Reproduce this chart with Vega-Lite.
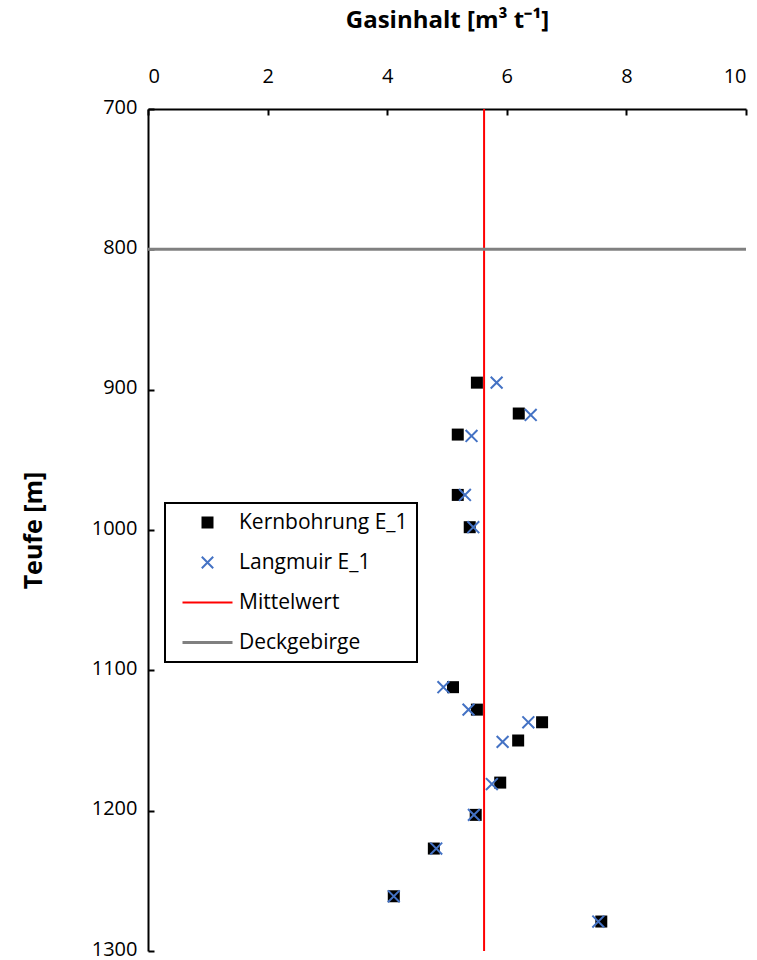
{
  "$schema": "https://vega.github.io/schema/vega-lite/v6.json",
  "width": 598,
  "height": 842,
  "autosize": {"type": "none"},
  "padding": {"left": 148, "top": 109, "right": 11, "bottom": 9},
  "background": "white",
  "config": {
    "view": {"stroke": null},
    "font": "Open Sans",
    "axis": {
      "grid": false,
      "domainColor": "black",
      "domainWidth": 2,
      "tickColor": "black",
      "tickWidth": 2,
      "tickSize": -6,
      "labelColor": "black",
      "labelFont": "Open Sans",
      "labelFontSize": 20,
      "titleFont": "Open Sans",
      "titleFontWeight": "bold",
      "titleFontSize": 24,
      "titleColor": "black"
    }
  },
  "datasets": {
    "pts": [
      {"serie": "Kernbohrung E_1", "gas": 5.50, "teufe": 895},
      {"serie": "Kernbohrung E_1", "gas": 6.20, "teufe": 917},
      {"serie": "Kernbohrung E_1", "gas": 5.18, "teufe": 932},
      {"serie": "Kernbohrung E_1", "gas": 5.18, "teufe": 975},
      {"serie": "Kernbohrung E_1", "gas": 5.38, "teufe": 998},
      {"serie": "Kernbohrung E_1", "gas": 5.10, "teufe": 1112},
      {"serie": "Kernbohrung E_1", "gas": 5.50, "teufe": 1128},
      {"serie": "Kernbohrung E_1", "gas": 6.59, "teufe": 1137},
      {"serie": "Kernbohrung E_1", "gas": 6.19, "teufe": 1150},
      {"serie": "Kernbohrung E_1", "gas": 5.89, "teufe": 1180},
      {"serie": "Kernbohrung E_1", "gas": 5.48, "teufe": 1203},
      {"serie": "Kernbohrung E_1", "gas": 4.78, "teufe": 1227},
      {"serie": "Kernbohrung E_1", "gas": 4.11, "teufe": 1261},
      {"serie": "Kernbohrung E_1", "gas": 7.58, "teufe": 1279},
      {"serie": "Langmuir E_1", "gas": 5.83, "teufe": 895},
      {"serie": "Langmuir E_1", "gas": 6.40, "teufe": 918},
      {"serie": "Langmuir E_1", "gas": 5.41, "teufe": 933},
      {"serie": "Langmuir E_1", "gas": 5.30, "teufe": 975},
      {"serie": "Langmuir E_1", "gas": 5.44, "teufe": 998},
      {"serie": "Langmuir E_1", "gas": 4.94, "teufe": 1112},
      {"serie": "Langmuir E_1", "gas": 5.36, "teufe": 1128},
      {"serie": "Langmuir E_1", "gas": 6.36, "teufe": 1137},
      {"serie": "Langmuir E_1", "gas": 5.93, "teufe": 1151},
      {"serie": "Langmuir E_1", "gas": 5.75, "teufe": 1181},
      {"serie": "Langmuir E_1", "gas": 5.45, "teufe": 1203},
      {"serie": "Langmuir E_1", "gas": 4.82, "teufe": 1227},
      {"serie": "Langmuir E_1", "gas": 4.11, "teufe": 1261},
      {"serie": "Langmuir E_1", "gas": 7.53, "teufe": 1279}
    ],
    "lines": [
      {"serie": "Mittelwert", "gas": 5.62, "gas2": 5.62, "teufe": 700, "teufe2": 1300},
      {"serie": "Deckgebirge", "gas": 0, "gas2": 10, "teufe": 800, "teufe2": 800}
    ]
  },
  "encoding": {
    "x": {
      "field": "gas", "type": "quantitative",
      "scale": {"domain": [0, 10], "nice": false, "zero": false},
      "axis": {
        "orient": "top",
        "values": [0, 2, 4, 6, 8, 10],
        "title": "Gasinhalt [m³ t⁻¹]",
        "labelPadding": 29,
        "titlePadding": 34
      }
    },
    "y": {
      "field": "teufe", "type": "quantitative",
      "scale": {"domain": [700, 1300], "reverse": true, "nice": false, "zero": false},
      "axis": {
        "values": [700, 800, 900, 1000, 1100, 1200, 1300],
        "format": "d",
        "title": "Teufe [m]",
        "titleFontSize": 25,
        "labelPadding": 17,
        "labelOffset": -2,
        "titlePadding": 45
      }
    },
    "color": {
      "field": "serie", "type": "nominal",
      "scale": {
        "domain": ["Kernbohrung E_1", "Langmuir E_1", "Mittelwert", "Deckgebirge"],
        "range": ["#000000", "#4472C4", "#FF0000", "#808080"]
      },
      "legend": {
        "orient": "none",
        "legendX": 17,
        "legendY": 394,
        "title": null,
        "strokeColor": "black",
        "fillColor": "white",
        "padding": 9,
        "symbolOffset": 23,
        "symbolSize": 2500,
        "labelFont": "Open Sans",
        "labelFontSize": 21,
        "labelColor": "black",
        "labelOffset": 21,
        "labelLimit": 400,
        "rowPadding": 18,
        "encode": {
          "legend": {"update": {"strokeWidth": {"value": 2}}},
          "symbols": {
            "update": {
              "shape": {"signal": "datum.value === 'Kernbohrung E_1' ? 'square' : (datum.value === 'Langmuir E_1' ? 'M-1,-1L1,1M-1,1L1,-1' : 'stroke')"},
              "size": {"signal": "datum.value === 'Kernbohrung E_1' ? 144 : (datum.value === 'Langmuir E_1' ? 130 : 2500)"},
              "fill": {"signal": "datum.value === 'Kernbohrung E_1' ? 'black' : 'transparent'"},
              "stroke": {"scale": "color", "field": "value"},
              "strokeWidth": {"signal": "datum.value === 'Kernbohrung E_1' ? 0 : (datum.value === 'Deckgebirge' ? 3 : 2)"},
              "opacity": {"value": 1}
            }
          }
        }
      }
    }
  },
  "layer": [
    {
      "data": {"name": "pts"},
      "transform": [{"filter": "datum.serie === 'Kernbohrung E_1'"}],
      "mark": {"type": "point", "shape": "square", "filled": true, "size": 144, "opacity": 1}
    },
    {
      "data": {"name": "pts"},
      "transform": [{"filter": "datum.serie === 'Langmuir E_1'"}],
      "mark": {"type": "point", "shape": "M-1,-1L1,1M-1,1L1,-1", "filled": false, "size": 140, "strokeWidth": 2, "opacity": 1}
    },
    {
      "data": {"name": "lines"},
      "transform": [{"filter": "datum.serie === 'Mittelwert'"}],
      "mark": {"type": "rule", "strokeWidth": 2},
      "encoding": {
        "x2": {"field": "gas2"},
        "y2": {"field": "teufe2"}
      }
    },
    {
      "data": {"name": "lines"},
      "transform": [{"filter": "datum.serie === 'Deckgebirge'"}],
      "mark": {"type": "rule", "strokeWidth": 3},
      "encoding": {
        "x2": {"field": "gas2"},
        "y2": {"field": "teufe2"}
      }
    }
  ]
}
